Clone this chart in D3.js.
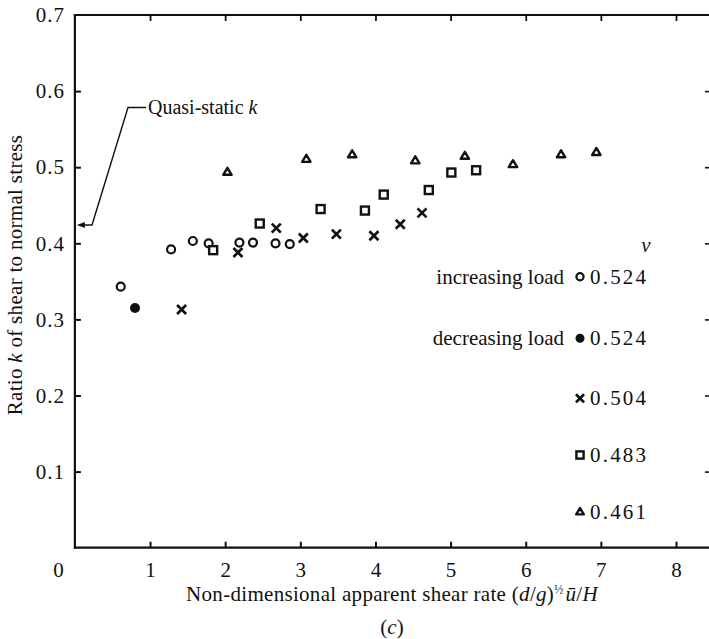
<!DOCTYPE html>
<html>
<head>
<meta charset="utf-8">
<script src="https://cdn.jsdelivr.net/npm/d3@7/dist/d3.min.js"></script>
<style>
  html, body { margin: 0; padding: 0; background: #fff; }
  svg { display: block; }
  text { font-family: "Liberation Serif", "Times New Roman", serif; fill: #111; }
</style>
</head>
<body>
<svg id="chart" width="709" height="639"></svg>
<script>
// ---- data ----
const xTicks = [0, 1, 2, 3, 4, 5, 6, 7, 8];
const yTicks = [0.1, 0.2, 0.3, 0.4, 0.5, 0.6, 0.7];

// nu = 0.524, increasing load (open circles)
const incX = [0.61, 1.28, 1.57, 1.78, 2.19, 2.37, 2.67, 2.86];
const incK = [0.343, 0.392, 0.403, 0.400, 0.401, 0.401, 0.400, 0.399];
// nu = 0.524, decreasing load (filled circle)
const decX = [0.80];
const decK = [0.315];
// nu = 0.504 (crosses)
const x504 = [1.42, 2.17, 2.68, 3.04, 3.48, 3.98, 4.33, 4.62];
const k504 = [0.313, 0.388, 0.420, 0.407, 0.412, 0.410, 0.425, 0.440];
// nu = 0.483 (squares)
const x483 = [1.84, 2.46, 3.27, 3.86, 4.11, 4.71, 5.01, 5.34];
const k483 = [0.391, 0.426, 0.445, 0.443, 0.464, 0.470, 0.493, 0.496];
// nu = 0.461 (triangles)
const x461 = [2.03, 3.08, 3.69, 4.53, 5.19, 5.83, 6.47, 6.94];
const k461 = [0.494, 0.511, 0.517, 0.509, 0.515, 0.504, 0.517, 0.520];

const legendLabels = ["increasing load", "decreasing load", "", "", ""];
const legendValues = ["0.524", "0.524", "0.504", "0.483", "0.461"];
const legendShapes = ["circle", "dot", "cross", "square", "triangle"];
const quasiStaticK = 0.424;

// ---- chart ----
const svg = d3.select("#chart");
const x = d3.scaleLinear().domain([0, 8]).range([74.9, 676]);
const y = d3.scaleLinear().domain([0, 0.7]).range([547.7, 15]);
const rightEdge = 711;

const axisStroke = "#111";

// frame lines (left, bottom, top)
svg.append("line").attr("x1", x(0)).attr("x2", x(0)).attr("y1", y(0.7) - 1).attr("y2", y(0) + 1)
  .attr("stroke", axisStroke).attr("stroke-width", 2.2);
svg.append("line").attr("x1", x(0) - 1).attr("x2", rightEdge).attr("y1", y(0)).attr("y2", y(0))
  .attr("stroke", axisStroke).attr("stroke-width", 2.2);
svg.append("line").attr("x1", x(0) - 1).attr("x2", rightEdge).attr("y1", y(0.7)).attr("y2", y(0.7))
  .attr("stroke", axisStroke).attr("stroke-width", 2.2);

// bottom axis ticks + labels
const gBottom = svg.append("g").attr("transform", `translate(0,${y(0)})`)
  .call(d3.axisBottom(x).tickValues(xTicks).tickSizeInner(-6).tickSizeOuter(0).tickPadding(14)
    .tickFormat(d3.format("d")));
gBottom.select(".domain").remove();
gBottom.selectAll(".tick line").attr("stroke", axisStroke).attr("stroke-width", 2)
  .filter(d => d === 0).remove();
gBottom.selectAll(".tick text").style("font-size", "21px").attr("fill", "#111")
  .attr("dx", d => d === 0 ? -17 : 0);

// top axis ticks
const gTop = svg.append("g").attr("transform", `translate(0,${y(0.7)})`)
  .call(d3.axisTop(x).tickValues(xTicks.filter(d => d > 0)).tickSizeInner(-6).tickSizeOuter(0).tickFormat(""));
gTop.select(".domain").remove();
gTop.selectAll(".tick line").attr("stroke", axisStroke).attr("stroke-width", 1.8);

// left axis ticks + labels
const gLeft = svg.append("g").attr("transform", `translate(${x(0)},0)`)
  .call(d3.axisLeft(y).tickValues(yTicks).tickSizeInner(-6).tickSizeOuter(0).tickPadding(10)
    .tickFormat(d3.format(".1f")));
gLeft.select(".domain").remove();
gLeft.selectAll(".tick line").attr("stroke", axisStroke).attr("stroke-width", 2)
  .filter(d => d === 0.7).remove();
gLeft.selectAll(".tick text").style("font-size", "21px").attr("fill", "#111")
  .style("letter-spacing", "1px");

// right axis ticks
const gRight = svg.append("g").attr("transform", `translate(${rightEdge},0)`)
  .call(d3.axisRight(y).tickValues(yTicks.filter(d => d < 0.7)).tickSizeInner(-6).tickSizeOuter(0).tickFormat(""));
gRight.select(".domain").remove();
gRight.selectAll(".tick line").attr("stroke", axisStroke).attr("stroke-width", 1.6);

// ---- markers ----
function drawMarker(g, shape, cx, cy, s) {
  s = s || 1;
  if (shape === "circle") {
    g.append("circle").attr("cx", cx).attr("cy", cy).attr("r", 4 * s)
      .attr("fill", "#fff").attr("stroke", "#111").attr("stroke-width", 2.2);
  } else if (shape === "dot") {
    g.append("circle").attr("cx", cx).attr("cy", cy).attr("r", 5 * s).attr("fill", "#111");
  } else if (shape === "square") {
    const h = 4 * s;
    g.append("rect").attr("x", cx - h).attr("y", cy - h).attr("width", 2 * h).attr("height", 2 * h)
      .attr("fill", "#fff").attr("stroke", "#111").attr("stroke-width", 2.4);
  } else if (shape === "triangle") {
    const h = 4 * s;
    g.append("path").attr("d", `M${cx},${cy - h}L${cx + h * 1.05},${cy + h * 0.75}L${cx - h * 1.05},${cy + h * 0.75}Z`)
      .attr("fill", "#fff").attr("stroke", "#111").attr("stroke-width", 2.4).attr("stroke-linejoin", "round");
  } else if (shape === "cross") {
    const h = 4.5 * s;
    g.append("path").attr("d", `M${cx - h},${cy - h}L${cx + h},${cy + h}M${cx + h},${cy - h}L${cx - h},${cy + h}`)
      .attr("stroke", "#111").attr("stroke-width", 2.7).attr("fill", "none");
  }
}

const series = [
  { xs: incX, ks: incK, shape: "circle" },
  { xs: decX, ks: decK, shape: "dot" },
  { xs: x483, ks: k483, shape: "square" },
  { xs: x504, ks: k504, shape: "cross" },
  { xs: x461, ks: k461, shape: "triangle" }
];
const marks = svg.append("g");
series.forEach(sr => {
  sr.xs.forEach((v, i) => drawMarker(marks, sr.shape, x(v), y(sr.ks[i])));
});

// ---- legend ----
const legend = svg.append("g");
const legendRowsY = [276.7, 338.3, 398.3, 455, 511.7];
legend.append("text").attr("x", 646).attr("y", 252).style("font-size", "21px")
  .style("font-style", "italic").attr("text-anchor", "middle").text("ν");
legendValues.forEach((v, i) => {
  const cy = legendRowsY[i];
  drawMarker(legend, legendShapes[i], 580, cy, 0.9);
  legend.append("text").attr("x", 590).attr("y", cy + 7).style("font-size", "21px")
    .style("letter-spacing", "2.2px").text(v);
  if (legendLabels[i]) {
    legend.append("text").attr("x", 564).attr("y", cy + 7).attr("text-anchor", "end")
      .style("font-size", "21px").text(legendLabels[i]);
  }
});

// ---- quasi-static annotation ----
const ay = y(quasiStaticK);
svg.append("path")
  .attr("d", `M146,107.5L128,107.5L92,${ay}L${x(0) + 4},${ay}`)
  .attr("fill", "none").attr("stroke", "#111").attr("stroke-width", 1.4);
svg.append("path")
  .attr("d", `M${x(0) + 2},${ay}L${x(0) + 10},${ay - 3}L${x(0) + 10},${ay + 3}Z`)
  .attr("fill", "#111");
const qs = svg.append("text").attr("x", 148).attr("y", 114).style("font-size", "20px");
qs.append("tspan").text("Quasi-static ");
qs.append("tspan").style("font-style", "italic").text("k");

// ---- axis titles ----
const xt = svg.append("text").attr("x", 392).attr("y", 601).attr("text-anchor", "middle")
  .style("font-size", "21px").style("letter-spacing", "0.3px");
xt.append("tspan").text("Non-dimensional apparent shear rate (");
xt.append("tspan").style("font-style", "italic").text("d");
xt.append("tspan").text("/");
xt.append("tspan").style("font-style", "italic").text("g");
xt.append("tspan").text(")");
xt.append("tspan").attr("dy", -7).style("font-size", "12px").text("½");
xt.append("tspan").attr("dy", 7).attr("dx", 2).style("font-style", "italic").text("ū");
xt.append("tspan").text("/");
xt.append("tspan").style("font-style", "italic").text("H");

const ct = svg.append("text").attr("x", 392).attr("y", 634).attr("text-anchor", "middle").style("font-size", "21px");
ct.append("tspan").text("(");
ct.append("tspan").style("font-style", "italic").text("c");
ct.append("tspan").text(")");

const yt = svg.append("text").attr("transform", "translate(22,275) rotate(-90)")
  .attr("text-anchor", "middle").style("font-size", "21px").style("letter-spacing", "0.3px");
yt.append("tspan").text("Ratio ");
yt.append("tspan").style("font-style", "italic").text("k");
yt.append("tspan").text(" of shear to normal stress");
</script>
</body>
</html>
